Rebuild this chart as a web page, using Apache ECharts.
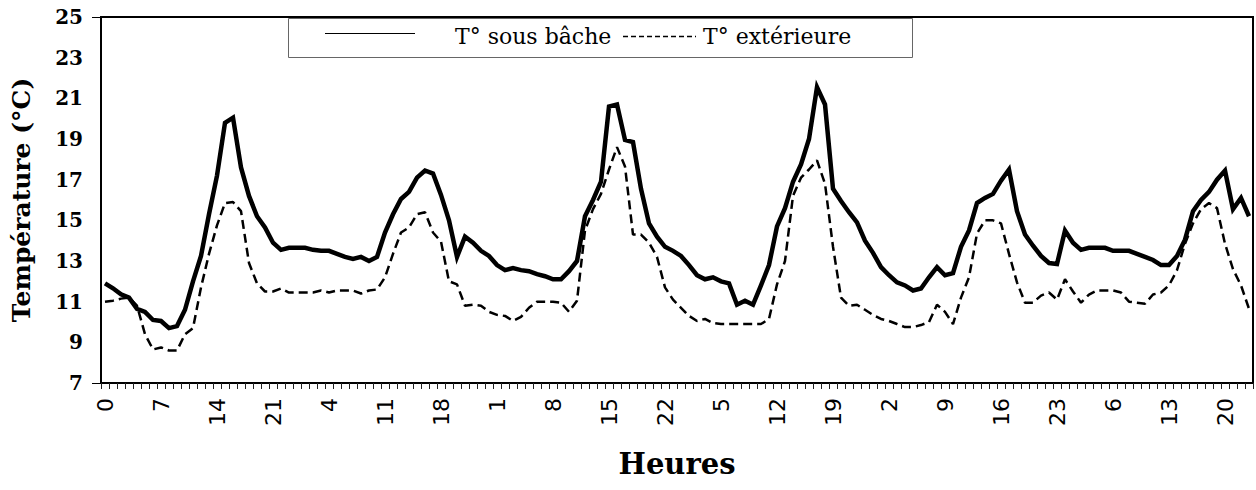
<!DOCTYPE html>
<html>
<head>
<meta charset="utf-8">
<script src="https://cdn.jsdelivr.net/npm/echarts@6/dist/echarts.min.js"></script>
<style>
html,body{margin:0;padding:0;background:#fff;}
#chart{width:1256px;height:490px;}
</style>
</head>
<body>
<div id="chart"></div>
<script>
// Hour-of-day labels for 6 consecutive days (144 hourly readings)
var hours = [
 0,1,2,3,4,5,6,7,8,9,10,11,12,13,14,15,16,17,18,19,20,21,22,23,
 0,1,2,3,4,5,6,7,8,9,10,11,12,13,14,15,16,17,18,19,20,21,22,23,
 0,1,2,3,4,5,6,7,8,9,10,11,12,13,14,15,16,17,18,19,20,21,22,23,
 0,1,2,3,4,5,6,7,8,9,10,11,12,13,14,15,16,17,18,19,20,21,22,23,
 0,1,2,3,4,5,6,7,8,9,10,11,12,13,14,15,16,17,18,19,20,21,22,23,
 0,1,2,3,4,5,6,7,8,9,10,11,12,13,14,15,16,17,18,19,20,21,22,23
];

// T° sous bâche (solid)
var tSousBache = [
 11.9, 11.66, 11.36, 11.2, 10.65, 10.5, 10.1, 10.05, 9.7, 9.8,
 10.6, 12.0, 13.25, 15.3, 17.2, 19.8, 20.05, 17.6, 16.2, 15.2,
 14.65, 13.9, 13.55, 13.65, 13.65, 13.65, 13.55, 13.5, 13.5, 13.35,
 13.2, 13.1, 13.2, 13.0, 13.2, 14.4, 15.3, 16.05, 16.4, 17.1,
 17.45, 17.3, 16.25, 15.0, 13.2, 14.2, 13.9, 13.5, 13.25, 12.8,
 12.55, 12.65, 12.55, 12.5, 12.35, 12.25, 12.1, 12.1, 12.5, 13.0,
 15.2, 16.0, 16.9, 20.6, 20.7, 18.95, 18.85, 16.55, 14.85, 14.2,
 13.7, 13.5, 13.25, 12.8, 12.3, 12.1, 12.2, 12.0, 11.9, 10.85,
 11.05, 10.85, 11.8, 12.8, 14.7, 15.6, 16.9, 17.75, 19.0, 21.55,
 20.7, 16.55, 15.95, 15.4, 14.9, 14.0, 13.4, 12.7, 12.3, 11.95,
 11.8, 11.55, 11.65, 12.2, 12.7, 12.3, 12.4, 13.7, 14.5, 15.85,
 16.1, 16.3, 16.95, 17.5, 15.45, 14.3, 13.75, 13.25, 12.9, 12.85,
 14.5, 13.9, 13.55, 13.65, 13.65, 13.65, 13.5, 13.5, 13.5, 13.35,
 13.2, 13.05, 12.8, 12.8, 13.25, 14.05, 15.45, 16.0, 16.4, 17.0,
 17.45, 15.55, 16.1, 15.2
];

// T° extérieure (dashed)
var tExterieure = [
 11.0, 11.05, 11.15, 11.2, 10.8, 9.4, 8.65, 8.75, 8.6, 8.6,
 9.4, 9.7, 11.7, 13.35, 14.75, 15.85, 15.9, 15.45, 12.9, 11.9,
 11.5, 11.5, 11.65, 11.45, 11.45, 11.45, 11.45, 11.55, 11.45, 11.55,
 11.55, 11.55, 11.4, 11.55, 11.6, 12.2, 13.35, 14.4, 14.65, 15.3,
 15.4, 14.4, 13.95, 12.0, 11.85, 10.8, 10.85, 10.8, 10.5, 10.35,
 10.3, 10.05, 10.25, 10.7, 11.0, 11.0, 11.0, 10.95, 10.5, 11.05,
 14.5, 15.55, 16.3, 17.5, 18.6, 17.65, 14.3, 14.3, 13.9, 13.2,
 11.7, 11.1, 10.7, 10.3, 10.05, 10.15, 9.95, 9.9, 9.9, 9.9,
 9.9, 9.9, 9.9, 10.15, 11.85, 13.0, 16.2, 17.1, 17.5, 17.95,
 16.8, 13.7, 11.2, 10.8, 10.85, 10.6, 10.35, 10.15, 10.05, 9.9,
 9.75, 9.75, 9.85, 10.0, 10.85, 10.5, 9.9, 11.2, 12.2, 14.35,
 15.0, 15.0, 14.85, 13.35, 11.95, 10.95, 10.95, 11.3, 11.45, 11.1,
 12.1, 11.5, 10.95, 11.35, 11.55, 11.55, 11.55, 11.45, 11.0, 10.95,
 10.9, 11.35, 11.45, 11.8, 12.55, 13.85, 14.85, 15.55, 15.85, 15.6,
 13.85, 12.6, 11.8, 10.65
];

var seriesNames = ['T° sous bâche', 'T° extérieure'];
var xTitle = 'Heures';
var yTitle = 'Température (°C)';

var chart = echarts.init(document.getElementById('chart'), null, {renderer: 'svg'});
chart.setOption({
  animation: false,
  backgroundColor: '#fff',
  grid: {left: 101, right: 3, top: 17, bottom: 107, show: true, borderColor: '#000', borderWidth: 2, backgroundColor: 'transparent'},
  xAxis: {
    type: 'category',
    data: hours,
    boundaryGap: true,
    axisLine: {lineStyle: {color: '#000', width: 2}},
    axisTick: {show: true, interval: 0, length: 6, lineStyle: {color: '#222', width: 1}},
    axisLabel: {interval: 6, rotate: 90, fontFamily: 'DejaVu Sans', fontSize: 22, color: '#000', margin: 15},
    name: xTitle,
    nameLocation: 'middle',
    nameGap: 66,
    nameTextStyle: {fontFamily: 'DejaVu Serif', fontWeight: 'bold', fontSize: 29, color: '#000'}
  },
  yAxis: {
    type: 'value',
    min: 7, max: 25, interval: 2,
    axisLine: {show: true, lineStyle: {color: '#000', width: 2}},
    axisTick: {show: true, customValues: [7, 25], length: 9, lineStyle: {color: '#000', width: 1}},
    splitLine: {show: true, showMinLine: false, showMaxLine: false, lineStyle: {color: '#808080', type: [10, 10], width: 1}},
    axisLabel: {fontFamily: 'DejaVu Serif', fontWeight: 'bold', fontSize: 20, color: '#000', margin: 18},
    name: yTitle,
    nameLocation: 'middle',
    nameRotate: 90,
    nameGap: 67,
    nameTextStyle: {fontFamily: 'DejaVu Serif', fontWeight: 'bold', fontSize: 25, color: '#000'}
  },
  series: [
    {name: seriesNames[0], type: 'line', data: tSousBache, symbol: 'none', z: 3,
     lineStyle: {color: '#000', width: 4.5, type: 'solid', join: 'miter'}},
    {name: seriesNames[1], type: 'line', data: tExterieure, symbol: 'none', z: 2,
     lineStyle: {color: '#000', width: 2.5, type: [9, 5]}}
  ],
  graphic: [
    {type: 'rect', z: 5, shape: {x: 913, y: 52, width: 178, height: 10}, style: {fill: '#fff'}},
    {type: 'rect', z: 6, shape: {x: 288.5, y: 18.5, width: 624, height: 39}, style: {fill: '#fff', stroke: '#666', lineWidth: 1}},
    {type: 'line', z: 7, shape: {x1: 325, y1: 33.5, x2: 415, y2: 33.5}, style: {stroke: '#000', lineWidth: 1}},
    {type: 'text', z: 7, style: {text: seriesNames[0], x: 455, y: 36, fontFamily: 'DejaVu Serif', fontSize: 22, fill: '#000', align: 'left', verticalAlign: 'middle'}},
    {type: 'line', z: 7, shape: {x1: 623, y1: 36.5, x2: 696, y2: 36.5}, style: {stroke: '#000', lineWidth: 1.5, lineDash: [5, 3]}},
    {type: 'text', z: 7, style: {text: seriesNames[1], x: 703, y: 36, fontFamily: 'DejaVu Serif', fontSize: 22, fill: '#000', align: 'left', verticalAlign: 'middle'}}
  ]
});
</script>
</body>
</html>
